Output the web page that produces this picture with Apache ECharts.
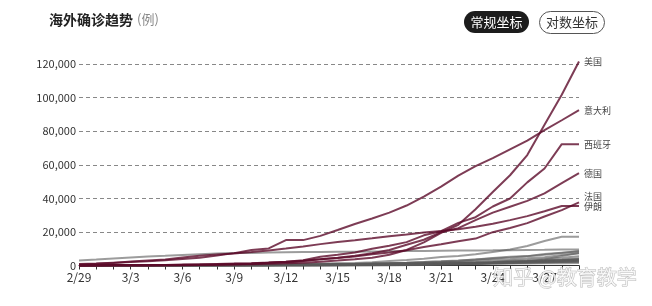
<!DOCTYPE html>
<html><head><meta charset="utf-8">
<script src="https://cdn.jsdelivr.net/npm/echarts@6/dist/echarts.min.js"></script>
<style>html,body{margin:0;padding:0;background:#fff}#c{width:652px;height:306px}</style>
</head><body><div id="c"></div>
<script>
const dates = ['2/29','3/1','3/2','3/3','3/4','3/5','3/6','3/7','3/8','3/9','3/10','3/11','3/12','3/13','3/14','3/15','3/16','3/17','3/18','3/19','3/20','3/21','3/22','3/23','3/24','3/25','3/26','3/27','3/28','3/29'];
const yTicks = [0, 20000, 40000, 60000, 80000, 100000, 120000];

// highlighted countries
const usa     = [62,68,75,100,124,158,221,319,435,541,704,994,1301,1697,2247,2943,3680,4663,6411,9259,13789,19383,24207,33546,43734,53740,65778,83836,101657,121478];
const italy   = [888,1128,1694,2036,2502,3089,3858,4636,5883,7375,9172,10149,15113,15113,17660,21157,24747,27980,31506,35713,41035,47021,53578,59138,63927,69176,74386,80589,86498,92472];
const spain   = [32,45,84,120,165,222,259,400,500,673,1073,1695,2277,3146,5232,6391,7798,9942,11748,13910,17963,20410,25374,28768,35136,39885,49515,57786,72248,72248];
const germany = [57,79,130,165,203,262,545,670,800,1040,1224,1565,1966,2745,3675,4599,5813,7272,9257,12327,15320,19848,22213,27000,31500,35000,38500,43000,49000,55000];
const france  = [57,100,130,191,212,285,423,613,949,1126,1412,1784,2281,2876,3661,4499,5423,6633,7730,9134,10995,12612,14459,16018,19856,22304,25233,29155,32964,37575];
const iran    = [593,978,1501,2336,2922,3513,4747,5823,6566,7161,8042,9000,10075,11364,12729,13938,14991,16169,17361,18407,19644,20610,21638,23049,24811,27017,29406,32332,35408,35408];

// other countries (grey)
const korea       = [2931,3526,4212,4812,5328,5766,6284,6767,7134,7382,7513,7755,7869,7979,8086,8162,8236,8320,8413,8565,8652,8799,8897,8961,9037,9137,9241,9332,9478,9583];
const uk          = [23,36,40,51,85,115,163,206,273,321,382,456,590,798,1140,1391,1543,1950,2626,3269,3983,5018,5683,6650,8077,9529,11658,14543,17089,17089];
const netherlands = [1,2,6,10,18,24,38,82,128,188,265,321,382,503,614,804,959,1135,1413,1705,2051,2460,2994,3631,4204,4749,5560,6412,7431,8603];
const belgium     = [1,1,1,2,8,13,23,50,109,169,200,239,267,314,314,559,689,886,1058,1243,1486,1795,2257,2815,3401,3743,4269,4937,6235,7284];
const austria     = [3,9,14,18,21,29,41,55,79,104,131,182,246,302,504,655,860,1016,1332,1646,2013,2388,2814,3582,4474,5283,5588,6909,7657,8271];
const turkey      = [0,0,0,0,0,0,0,0,0,0,0,1,1,1,5,6,18,47,98,191,359,670,947,1236,1529,1872,2433,3629,5698,7402];
const portugal    = [0,0,0,2,2,4,5,8,13,20,30,30,41,59,78,112,169,245,331,448,642,785,1020,1280,1600,2060,2362,2995,3544,4268];
const canada      = [14,20,24,27,30,33,37,49,54,64,77,79,108,117,193,198,252,341,441,598,727,1087,1328,1470,2088,2790,3251,4042,4682,5576];
const norway      = [1,6,15,19,25,32,56,87,108,147,176,205,400,598,702,996,1090,1221,1333,1463,1550,1746,1914,2118,2385,2621,2863,3084,3369,3755];
const brazil      = [1,1,2,2,2,2,4,4,13,13,20,25,31,38,52,151,151,162,200,321,372,621,793,1021,1546,1924,2247,2554,2985,3417];
const sweden      = [7,12,13,14,15,21,35,94,101,161,203,248,355,500,599,814,961,1022,1103,1190,1279,1439,1639,1763,1934,2046,2286,2526,2840,3069];
const israel      = [2,3,4,7,10,10,12,15,20,37,43,61,75,100,126,193,298,324,427,529,712,883,1071,1238,1656,2030,2369,2693,3035,3619];
const australia   = [23,25,27,30,39,52,55,60,63,76,91,107,128,128,200,250,297,377,452,568,681,791,1071,1549,1682,2044,2364,2810,3143,3640];
const czechia     = [0,0,3,3,5,5,8,19,26,32,38,63,94,116,141,189,298,383,450,560,765,889,1047,1161,1287,1472,1763,2022,2395,2657];
const japan       = [228,241,256,274,293,331,360,420,461,502,511,581,639,639,701,773,839,825,878,889,924,963,1007,1086,1086,1128,1193,1291,1387,1499];
const malaysia    = [25,29,29,36,50,50,83,93,99,117,129,149,149,197,238,428,566,673,790,900,1030,1183,1306,1518,1624,1796,2031,2161,2320,2470];
const denmark     = [1,1,3,4,4,6,10,10,23,35,90,262,442,615,801,827,864,914,977,1057,1151,1255,1326,1395,1450,1591,1724,1877,2046,2201];
const ireland     = [0,1,1,1,1,2,6,6,18,19,21,24,34,43,70,90,129,169,223,292,557,683,785,906,1125,1329,1564,1819,2121,2415];

const mainSeries = [
  ['美国', usa, 0], ['意大利', italy, 0], ['西班牙', spain, 0],
  ['德国', germany, 0], ['法国', france, -6], ['伊朗', iran, 1]
];
const greySeries = [korea, uk, netherlands, belgium, austria, turkey, portugal, canada, norway, brazil, sweden, israel, australia, czechia, japan, malaysia, denmark, ireland];

const FONT = '"Noto Sans CJK SC", "Noto Sans", sans-serif';
const chart = echarts.init(document.getElementById('c'), null, {renderer: 'canvas'});

const series = [];
greySeries.forEach((d, i) => series.push({
  type: 'line', name: 'g' + i, data: d, symbol: 'none', silent: true,
  lineStyle: {color: 'rgba(90,90,90,0.6)', width: 2}, z: 2
}));
mainSeries.forEach(([name, d, dy]) => series.push({
  type: 'line', name: name, data: d, symbol: 'none', clip: false,
  lineStyle: {color: 'rgba(92,11,42,0.8)', width: 2}, z: 3,
  endLabel: {show: true, formatter: name, fontSize: 9, color: '#444', distance: 5,
             offset: [0, dy], fontFamily: FONT}
}));

chart.setOption({
  animation: false,
  grid: {left: 79, right: 73, top: 64, bottom: 40.5},
  xAxis: {
    type: 'category', data: dates, boundaryGap: false,
    axisLine: {lineStyle: {color: '#333', width: 1}},
    axisTick: {show: true, interval: 0, length: 4, lineStyle: {color: '#333'}},
    axisLabel: {interval: 2, fontSize: 12, color: '#333', margin: 6, fontFamily: FONT}
  },
  yAxis: {
    type: 'value', min: yTicks[0], max: yTicks[yTicks.length - 1], interval: yTicks[1] - yTicks[0],
    axisLine: {show: false}, axisTick: {show: false},
    axisLabel: {fontSize: 11, color: '#333', margin: 3, fontFamily: FONT,
      formatter: v => v.toLocaleString('en-US')},
    splitLine: {lineStyle: {color: '#888', type: [4, 3], width: 1}}
  },
  graphic: [
    {type: 'text', left: 49, top: 13, style: {text: '海外确诊趋势', fontSize: 14, fontWeight: 'bold', fill: '#222', fontFamily: FONT}},
    {type: 'text', left: 137, top: 13, style: {text: '(例)', fontSize: 13, fill: '#888', fontFamily: FONT}},
    {type: 'rect', shape: {x: 464, y: 11, width: 65, height: 22, r: 11}, style: {fill: '#1c1c1c'}},
    {type: 'text', x: 496.5, y: 22, style: {text: '常规坐标', fontSize: 13, fill: '#fff', align: 'center', verticalAlign: 'middle', fontFamily: FONT}},
    {type: 'rect', shape: {x: 539.5, y: 11.5, width: 65, height: 22, r: 11}, style: {fill: '#fff', stroke: '#555', lineWidth: 1}},
    {type: 'text', x: 572, y: 22.5, style: {text: '对数坐标', fontSize: 13, fill: '#333', align: 'center', verticalAlign: 'middle', fontFamily: FONT}},
    {type: 'text', x: 565, y: 277, z: 100, style: {text: '知乎 @教育教学', fontSize: 20, fill: 'rgba(255,255,255,0.75)', stroke: 'rgba(165,165,165,0.75)', lineWidth: 1, align: 'center', verticalAlign: 'middle', fontFamily: FONT}}
  ],
  series: series
});
</script>
</body></html>
